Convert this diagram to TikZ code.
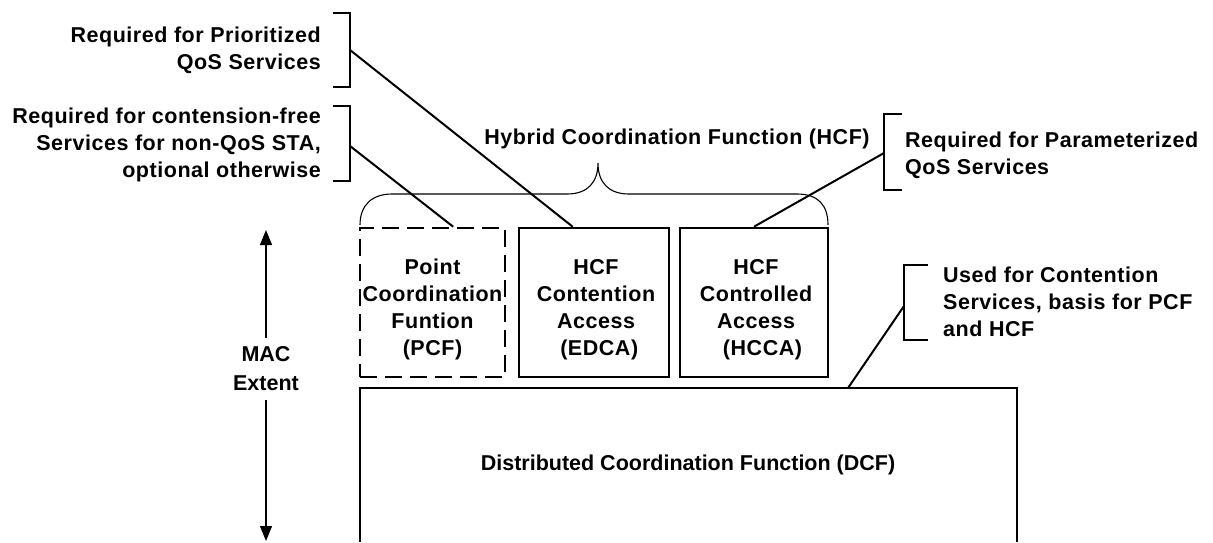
\documentclass[tikz,border=0pt]{standalone}
\usepackage{fontspec}
\setmainfont{Liberation Sans}
\newfontfamily\spacedsans[LetterSpace=2.5]{Liberation Sans}
\usetikzlibrary{arrows.meta,calc}
\begin{document}
\begin{tikzpicture}[x=1pt,y=-1pt,
  txt/.style={font=\spacedsans\bfseries\fontsize{21.5}{27}\selectfont, inner sep=0pt},
  blk/.style={draw, line width=2.6pt, minimum height=149pt, inner sep=0pt},
  dblk/.style={blk, dash pattern=on 17pt off 8pt},
  btxt/.style={txt, align=center},
  brk/.style={line width=2.6pt},
  conn/.style={line width=2pt},
  brace/.style={line width=1.1pt},
  marrow/.style={line width=1.2pt, -{Triangle[length=15pt,width=12pt]}}
]
\useasboundingbox (0,0) rectangle (1213,542);
% upper boxes
\node[dblk, minimum width=145pt] (pcf) at (432.5,302.5) {};
\node[blk, minimum width=150pt] (edca) at (594,302.5) {};
\node[blk, minimum width=148pt] (hcca) at (754,302.5) {};
\node[btxt] (pcft) at ($(pcf.center)+(0,7)$) {Point\\Coordination\\Funtion\\(PCF)};
\node[btxt] (edcat) at ($(edca.center)+(2,7)$) {HCF\\Contention\\Access\\\ (EDCA)};
\node[btxt] (hccat) at ($(hcca.center)+(2,7)$) {HCF\\Controlled\\Access\\\ \ (HCCA)};
% DCF box (open at bottom)
\draw[line width=2.6pt] (360,542) -- (360,388) -- (1017,388) -- (1017,542);
\node[txt, font=\bfseries\fontsize{21.5}{26}\selectfont] (dcf) at (688,465) {Distributed Coordination Function (DCF)};
\coordinate (dcftop) at (848,388);
% HCF label and brace
\node[txt] (hcf) at (677,139) {Hybrid Coordination Function (HCF)};
\draw[brace] (360,225) .. controls (360,205) and (372,194) .. (392,194)
  -- (567,194) .. controls (588,194) and (598,182) .. (598,163)
  .. controls (598,182) and (608,194) .. (629,194)
  -- (797,194) .. controls (818,194) and (828,205) .. (828,225);
% left annotations
\node[txt, anchor=east, align=right] (prio) at (321,50) {Required for Prioritized\\QoS Services};
\draw[brk] (333,13) -- (350,13) -- (350,87) -- (333,87);
\coordinate (b1) at (350,50);
\node[txt, anchor=east, align=right] (cfree) at (321,145) {Required for contension-free\\Services for non-QoS STA,\\optional otherwise};
\draw[brk] (333,106) -- (350,106) -- (350,181) -- (333,181);
\coordinate (b2) at (350,146);
% right annotations
\node[txt, anchor=west, align=left] (param) at (905,155) {Required for Parameterized\\QoS Services};
\draw[brk] (902,114) -- (884,114) -- (884,190) -- (902,190);
\coordinate (b3) at (884,153);
\node[txt, anchor=west, align=left] (used) at (943,302) {Used for Contention\\Services, basis for PCF\\and HCF};
\draw[brk] (928,265) -- (904,265) -- (904,340) -- (928,340);
\coordinate (b4) at (904,306);
% connectors
\draw[conn] (b1) -- ($(edca.north west)!0.36!(edca.north east)$);
\draw[conn] (b2) -- ($(pcf.north west)!0.64!(pcf.north east)$);
\draw[conn] (b3) -- (hcca.north);
\draw[conn] (b4) -- (dcftop);
% MAC extent
\node[txt, font=\bfseries\fontsize{21.5}{29}\selectfont, align=center, inner sep=9pt] (mac) at (266,369) {MAC\\Extent};
\coordinate (mactop) at (266,230);
\coordinate (macbot) at (266,541);
\draw[marrow] (mac.north) -- (mactop);
\draw[marrow] (mac.south) -- (macbot);
\end{tikzpicture}
\end{document}
